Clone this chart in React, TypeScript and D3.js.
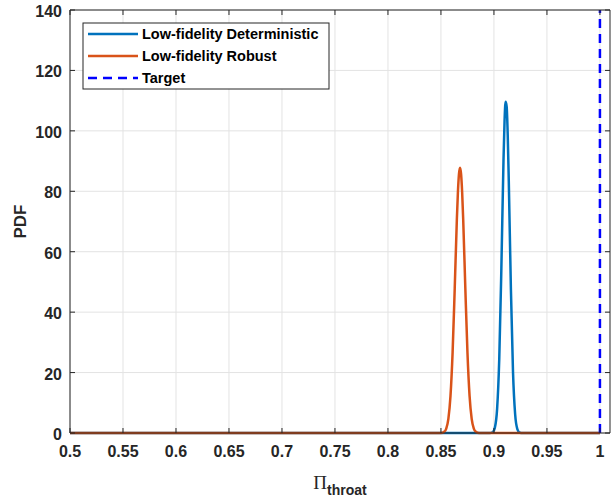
import React from "react";
import * as d3 from "d3";

const xTicks = [0.5, 0.55, 0.6, 0.65, 0.7, 0.75, 0.8, 0.85, 0.9, 0.95, 1];
const yTicks = [0, 20, 40, 60, 80, 100, 120, 140];

const detX = [0.5, 0.896, 0.899, 0.901, 0.903, 0.905, 0.907, 0.909, 0.91, 0.911, 0.912, 0.913, 0.914, 0.916, 0.918, 0.92, 0.922, 0.924, 0.927, 1.0];
const detY = [0, 0, 0.35, 1.96, 8.05, 24.4, 54.5, 90.0, 103.2, 109.6, 108.0, 98.6, 83.4, 47.6, 20.0, 6.2, 1.4, 0.24, 0, 0];

const robX = [0.5, 0.85, 0.853, 0.855, 0.857, 0.859, 0.861, 0.863, 0.865, 0.866, 0.867, 0.868, 0.869, 0.87, 0.871, 0.873, 0.875, 0.877, 0.879, 0.881, 0.883, 0.886, 1.0];
const robY = [0, 0, 0.37, 1.46, 4.66, 12.3, 26.7, 47.9, 70.6, 79.7, 85.7, 87.8, 85.7, 79.7, 70.6, 47.9, 26.7, 12.3, 4.66, 1.46, 0.37, 0, 0];

const targetX = 1.0;
const legendLabels = ["Low-fidelity Deterministic", "Low-fidelity Robust", "Target"];
const colors = ["#0072BD", "#D95319", "#0000FF"];

const W = 613, H = 497;
const L = 70, R = 610, T = 10, B = 433;
const FONT = "'Liberation Sans', Arial, Helvetica, sans-serif";

export default function App() {
  const x = d3.scaleLinear().domain([0.5, 1.0095]).range([L, R]);
  const y = d3.scaleLinear().domain([0, 140]).range([B, T]);
  const line = d3.line<[number, number]>().x(d => x(d[0])).y(d => y(d[1])).curve(d3.curveMonotoneX);
  const det = line(detX.map((v, i) => [v, detY[i]] as [number, number])) || "";
  const rob = line(robX.map((v, i) => [v, robY[i]] as [number, number])) || "";
  const axisColor = "#262626";
  const tl = 5;
  return (
    <svg width={W} height={H} style={{ position: "absolute", left: 0, top: 0, background: "#fff" }} fontFamily={FONT}>
      <rect x={0} y={0} width={W} height={H} fill="#fff" />
      {xTicks.map(t => (
        <line key={"gx" + t} x1={x(t)} x2={x(t)} y1={T} y2={B} stroke="#e3e3e3" strokeWidth={1} />
      ))}
      {yTicks.map(t => (
        <line key={"gy" + t} x1={L} x2={R} y1={y(t)} y2={y(t)} stroke="#e3e3e3" strokeWidth={1} />
      ))}
      <path d={det} fill="none" stroke={colors[0]} strokeWidth={2.5} />
      <path d={rob} fill="none" stroke={colors[1]} strokeWidth={2.5} />
      <line x1={x(targetX)} x2={x(targetX)} y1={y(0)} y2={y(140)} stroke={colors[2]} strokeWidth={2.5} strokeDasharray="9,6" />
      {/* axes box */}
      <line x1={L} x2={R} y1={B} y2={B} stroke={axisColor} strokeWidth={1} />
      <line x1={L} x2={L} y1={T} y2={B} stroke={axisColor} strokeWidth={1} />
      <line x1={L} x2={R} y1={T} y2={T} stroke={axisColor} strokeWidth={1} />
      <line x1={R} x2={R} y1={T} y2={B} stroke={axisColor} strokeWidth={1} />
      {xTicks.map(t => (
        <g key={"tx" + t}>
          <line x1={x(t)} x2={x(t)} y1={B} y2={B - tl} stroke={axisColor} />
          <line x1={x(t)} x2={x(t)} y1={T} y2={T + tl} stroke={axisColor} />
          <text x={x(t)} y={457} textAnchor="middle" fontSize={16} fontWeight="bold" fill={axisColor}>{String(t)}</text>
        </g>
      ))}
      {yTicks.map(t => (
        <g key={"ty" + t}>
          <line x1={L} x2={L + tl} y1={y(t)} y2={y(t)} stroke={axisColor} />
          <line x1={R} x2={R - tl} y1={y(t)} y2={y(t)} stroke={axisColor} />
          <text x={62} y={y(t) + 7} textAnchor="end" fontSize={16} fontWeight="bold" fill={axisColor}>{String(t)}</text>
        </g>
      ))}
      <text transform={`translate(26,${(T + B) / 2}) rotate(-90)`} textAnchor="middle" fontSize={17} fontWeight="bold" fill={axisColor}>PDF</text>
      <text x={340} y={489} textAnchor="middle" fill={axisColor}>
        <tspan fontFamily="'Liberation Serif', 'Times New Roman', serif" fontSize={19}>Π</tspan>
        <tspan fontSize={14} fontWeight="bold" dy={6}>throat</tspan>
      </text>
      {/* legend */}
      <rect x={83} y={23} width={246} height={66} fill="#fff" stroke={axisColor} strokeWidth={1} />
      {legendLabels.map((lab, i) => (
        <g key={lab}>
          <line x1={88} x2={138} y1={34 + i * 22} y2={34 + i * 22} stroke={colors[i]} strokeWidth={2.5} strokeDasharray={i === 2 ? "9,6" : undefined} />
          <text x={142} y={34 + i * 22 + 5} fontSize={14.5} fontWeight="bold" fill="#000">{lab}</text>
        </g>
      ))}
    </svg>
  );
}
